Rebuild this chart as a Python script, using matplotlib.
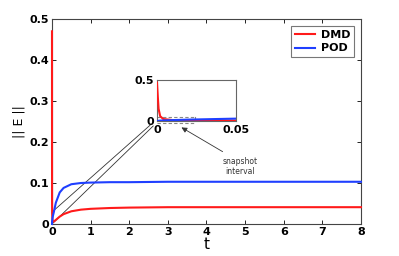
import matplotlib
matplotlib.use("Agg")
import matplotlib.pyplot as plt

# Data
t = [0, 0.0005, 0.001, 0.002, 0.004, 0.01, 0.02, 0.05, 0.1, 0.2, 0.3, 0.5, 0.75,
     1, 1.5, 2, 3, 4, 5, 6, 7, 8]
dmd = [0.47, 0.30, 0.15, 0.06, 0.025, 0.012, 0.007, 0.006, 0.010, 0.018, 0.024, 0.031,
       0.035, 0.037, 0.039, 0.040, 0.041, 0.041, 0.041, 0.041, 0.041, 0.041]
pod = [0.0, 0.002, 0.004, 0.006, 0.008, 0.012, 0.018, 0.030, 0.052, 0.077, 0.088,
       0.097, 0.100, 0.101, 0.102, 0.102, 0.103, 0.103, 0.103, 0.103, 0.103, 0.103]
xticks = [0, 1, 2, 3, 4, 5, 6, 7, 8]
yticks = [0, 0.1, 0.2, 0.3, 0.4, 0.5]
inset_xticks = [0, 0.05]
inset_yticks = [0, 0.5]

RED = "#ff1a1a"
BLUE = "#1f3fff"
SPINE = "#444444"

fig = plt.figure(figsize=(3.99, 2.56), dpi=100)
ax = fig.add_axes([0.1303, 0.125, 0.7744, 0.8008])
ax.plot(t, dmd, color=RED, lw=1.5, label="DMD", clip_on=False, zorder=3)
ax.plot(t, pod, color=BLUE, lw=1.5, label="POD", clip_on=False, zorder=3)
ax.set_xlim(0, 8)
ax.set_ylim(0, 0.5)
ax.set_xticks(xticks)
ax.set_yticks(yticks)
ax.set_xticklabels([str(v) for v in xticks], fontweight="bold", fontsize=8)
ax.set_yticklabels(["0" if v == 0 else f"{v:g}" for v in yticks], fontweight="bold", fontsize=8)
ax.tick_params(direction="in", length=3, width=0.6, top=True, right=True, pad=2, colors="black")
for s in ax.spines.values():
    s.set_color(SPINE)
    s.set_linewidth(0.8)
ax.set_xlabel("t", fontsize=11, labelpad=0)
ax.set_ylabel("|| E ||", fontsize=9, labelpad=3)

leg = ax.legend(loc="upper right", prop={"weight": "bold", "size": 8}, fancybox=False,
                edgecolor="#555555", handlelength=1.8, borderpad=0.35, labelspacing=0.35,
                handletextpad=0.5, borderaxespad=0.6)
leg.get_frame().set_linewidth(0.8)

# connecting lines from origin region to inset
ax.plot([0, 2.54], [0.029, 0.241], color="#333333", lw=0.6, clip_on=False, zorder=2)
ax.plot([0, 2.62], [0.0, 0.239], color="#333333", lw=0.6, clip_on=False, zorder=2)

# annotation
ax.annotate("", xy=(3.29, 0.239), xytext=(4.48, 0.173),
            arrowprops=dict(arrowstyle="-|>", color="#333333", lw=0.6, mutation_scale=8))
ax.text(4.87, 0.141, "snapshot\ninterval", fontsize=5.5, ha="center", va="center",
        color="#333333", linespacing=1.1)

# inset
ins = fig.add_axes([0.3935, 0.527, 0.198, 0.160])
ins.plot(t, dmd, color=RED, lw=1.5, zorder=3)
ins.plot(t, pod, color=BLUE, lw=1.5, zorder=3)
ins.set_xlim(0, 0.05)
ins.set_ylim(0, 0.5)
ins.set_xticks(inset_xticks)
ins.set_yticks(inset_yticks)
ins.set_xticklabels(["0", "0.05"], fontweight="bold", fontsize=8)
ins.set_yticklabels(["0", "0.5"], fontweight="bold", fontsize=8)
ins.tick_params(axis="x", direction="in", length=0, pad=3)
ins.tick_params(axis="y", direction="in", length=0, pad=2)
for s in ins.spines.values():
    s.set_color("#666666")
    s.set_linewidth(0.8)
# dashed snapshot-interval box
ins.plot([0, 0.024], [0.052, 0.052], ls="--", color="#888888", lw=0.8, clip_on=False, dashes=(3, 2))
ins.plot([0, 0.024], [-0.028, -0.028], ls="--", color="#888888", lw=0.8, clip_on=False, dashes=(3, 2))
ins.plot([0.024, 0.024], [0.052, 0.015], color="#888888", lw=0.8, clip_on=False)

fig.savefig("out.png", dpi=100)
